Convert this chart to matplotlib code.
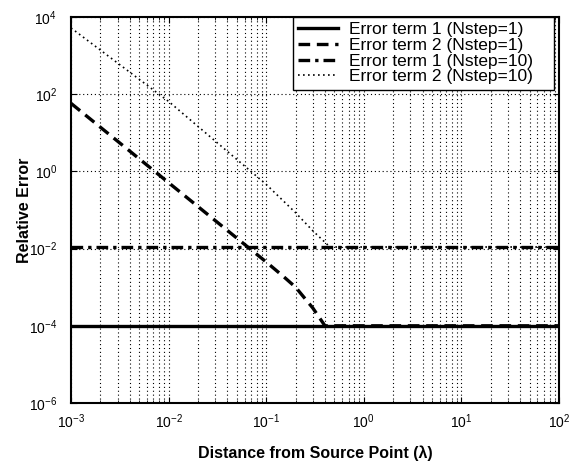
import numpy as np
import matplotlib
matplotlib.use("Agg")
import matplotlib.pyplot as plt
from matplotlib.ticker import LogLocator, NullFormatter

plt.rcParams["font.family"] = ["Liberation Sans", "DejaVu Sans"]
plt.rcParams["mathtext.default"] = "regular"

# ---- data ----
x_flat = [1e-3, 1e2]
err1_nstep1 = [1e-4, 1e-4]
err1_nstep10 = [1.1e-2, 1.1e-2]

x_err2_n1 = [1e-3, 1e-2, 0.1, 0.15, 0.2, 0.3, 0.4, 1e2]
err2_nstep1 = [58, 0.51, 4.5e-3, 1.9e-3, 1.0e-3, 2.9e-4, 1e-4, 1e-4]

x_err2_n10 = [1e-3, 1e-2, 0.1, 0.2, 0.3, 0.45, 1e2]
err2_nstep10 = [5200, 65, 0.46, 0.085, 0.029, 1.1e-2, 1.1e-2]

labels = ["Error term 1 (Nstep=1)", "Error term 2 (Nstep=1)",
          "Error term 1 (Nstep=10)", "Error term 2 (Nstep=10)"]

fig = plt.figure(figsize=(5.88, 4.61), dpi=100)
ax = fig.add_axes([71 / 588, 58 / 461, 488 / 588, 386 / 461])

ax.plot(x_flat, err1_nstep1, color="black", lw=2.4, ls="-", label=labels[0])
ax.plot(x_err2_n1, err2_nstep1, color="black", lw=2.4, ls=(0, (3.5, 2)), label=labels[1])
ax.plot(x_flat, err1_nstep10, color="black", lw=2.4, ls=(0, (3.5, 1.5, 1, 1.5)), label=labels[2])
ax.plot(x_err2_n10, err2_nstep10, color="black", lw=1.2, ls=(0, (1, 2)), label=labels[3])

ax.set_xscale("log")
ax.set_yscale("log")
ax.set_xlim(1e-3, 1e2)
ax.set_ylim(1e-6, 1e4)

ax.xaxis.set_major_locator(LogLocator(base=10, numticks=10))
ax.xaxis.set_minor_locator(LogLocator(base=10, subs=np.arange(2, 10), numticks=20))
ax.xaxis.set_minor_formatter(NullFormatter())
ax.set_yticks([1e-6, 1e-4, 1e-2, 1e0, 1e2, 1e4])
ax.yaxis.set_minor_locator(plt.NullLocator())

ax.grid(True, which="major", axis="both", color="black", ls=(0, (1, 2.5)), lw=0.8)
ax.grid(True, which="minor", axis="x", color="black", ls=(0, (1, 2.5)), lw=0.8)

ax.tick_params(which="both", direction="in", top=True, right=True, labelsize=10)
ax.tick_params(which="major", length=4)
ax.tick_params(axis="y", which="major", pad=10)
ax.tick_params(axis="x", which="major", pad=7)
ax.tick_params(which="minor", length=2)
for s in ax.spines.values():
    s.set_linewidth(1.5)

ax.set_xlabel("Distance from Source Point (λ)", fontsize=11.5, fontweight="bold", labelpad=10)
ax.set_ylabel("Relative Error", fontsize=11.5, fontweight="bold", labelpad=-2)

leg = ax.legend(loc="upper left", bbox_to_anchor=(0.455, 0.0, 0.535, 1.0),
                mode="expand", borderaxespad=0.0,
                fontsize=12.5, frameon=True, fancybox=False,
                framealpha=1, edgecolor="black",
                handlelength=2.3, handletextpad=0.6, labelspacing=0.03,
                borderpad=0.3)
leg.get_frame().set_linewidth(1.0)

fig.savefig("out.png", dpi=100)
